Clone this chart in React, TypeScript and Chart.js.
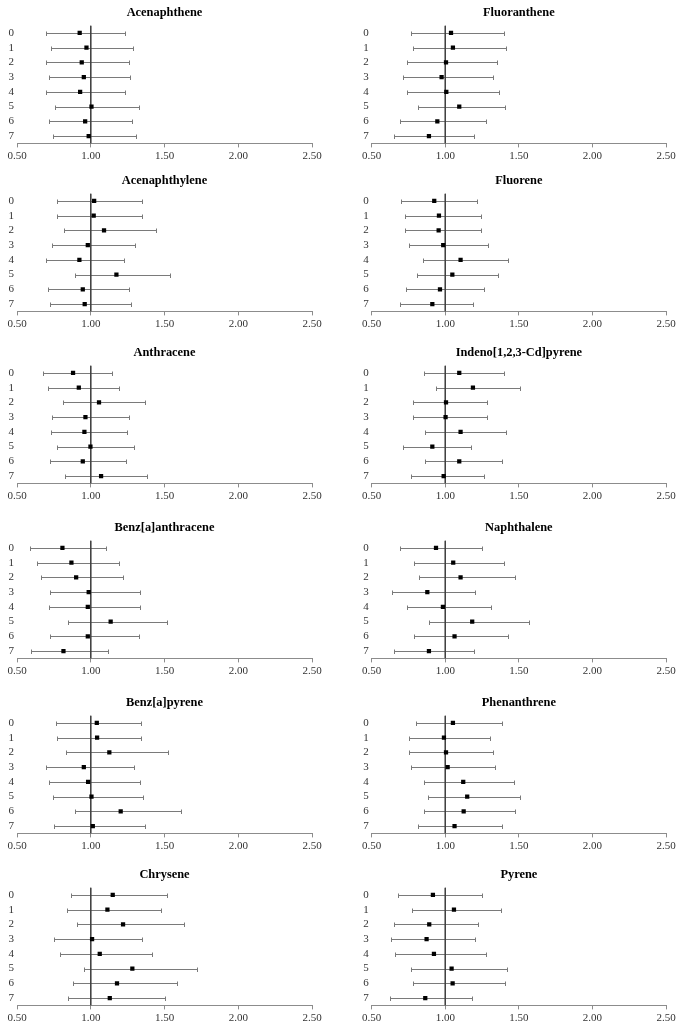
import React, { useEffect, useRef } from "react";
import { Chart, registerables } from "chart.js";

Chart.register(...registerables);

// ---------- data ----------
const compounds = [
  "Acenaphthene",
  "Fluoranthene",
  "Acenaphthylene",
  "Fluorene",
  "Anthracene",
  "Indeno[1,2,3-Cd]pyrene",
  "Benz[a]anthracene",
  "Naphthalene",
  "Benz[a]pyrene",
  "Phenanthrene",
  "Chrysene",
  "Pyrene",
];

const categories = ["0", "1", "2", "3", "4", "5", "6", "7"];
const xTickValues = [0.5, 1.0, 1.5, 2.0, 2.5];
const referenceValue = 1.0;

const estimates = [
  [0.925, 0.971, 0.939, 0.953, 0.928, 1.005, 0.962, 0.986],
  [1.039, 1.052, 1.005, 0.975, 1.007, 1.095, 0.946, 0.889],
  [1.023, 1.020, 1.090, 0.980, 0.923, 1.174, 0.946, 0.959],
  [0.925, 0.957, 0.955, 0.986, 1.104, 1.048, 0.964, 0.912],
  [0.880, 0.919, 1.056, 0.964, 0.957, 0.998, 0.946, 1.070],
  [1.095, 1.188, 1.005, 1.002, 1.104, 0.912, 1.095, 0.989],
  [0.808, 0.869, 0.901, 0.986, 0.980, 1.135, 0.980, 0.815],
  [0.937, 1.054, 1.104, 0.878, 0.984, 1.183, 1.063, 0.889],
  [1.041, 1.043, 1.126, 0.953, 0.982, 1.005, 1.203, 1.014],
  [1.052, 0.991, 1.005, 1.016, 1.122, 1.149, 1.125, 1.063],
  [1.149, 1.113, 1.219, 1.009, 1.061, 1.282, 1.178, 1.129],
  [0.916, 1.059, 0.891, 0.873, 0.923, 1.043, 1.050, 0.864],
];

const lowerCI = [
  [0.695, 0.729, 0.698, 0.718, 0.695, 0.758, 0.718, 0.745],
  [0.764, 0.783, 0.742, 0.715, 0.740, 0.814, 0.694, 0.653],
  [0.774, 0.772, 0.819, 0.740, 0.695, 0.896, 0.711, 0.725],
  [0.701, 0.728, 0.728, 0.753, 0.848, 0.805, 0.730, 0.692],
  [0.679, 0.707, 0.813, 0.738, 0.729, 0.770, 0.722, 0.826],
  [0.857, 0.934, 0.778, 0.778, 0.862, 0.710, 0.864, 0.769],
  [0.591, 0.634, 0.661, 0.722, 0.718, 0.847, 0.722, 0.594],
  [0.694, 0.789, 0.823, 0.638, 0.737, 0.887, 0.789, 0.653],
  [0.763, 0.772, 0.835, 0.698, 0.718, 0.743, 0.896, 0.749],
  [0.803, 0.753, 0.755, 0.769, 0.857, 0.880, 0.857, 0.814],
  [0.865, 0.837, 0.910, 0.752, 0.790, 0.955, 0.878, 0.847],
  [0.681, 0.776, 0.649, 0.629, 0.660, 0.764, 0.778, 0.626],
];

const upperCI = [
  [1.233, 1.284, 1.262, 1.266, 1.235, 1.327, 1.280, 1.307],
  [1.399, 1.410, 1.353, 1.324, 1.362, 1.408, 1.274, 1.197],
  [1.350, 1.350, 1.445, 1.300, 1.223, 1.540, 1.262, 1.275],
  [1.213, 1.245, 1.245, 1.288, 1.428, 1.360, 1.263, 1.190],
  [1.142, 1.192, 1.368, 1.262, 1.248, 1.296, 1.237, 1.379],
  [1.399, 1.505, 1.285, 1.285, 1.410, 1.172, 1.387, 1.265],
  [1.106, 1.192, 1.221, 1.334, 1.334, 1.519, 1.325, 1.117],
  [1.251, 1.401, 1.476, 1.204, 1.310, 1.571, 1.428, 1.197],
  [1.343, 1.343, 1.521, 1.293, 1.336, 1.354, 1.612, 1.368],
  [1.383, 1.306, 1.324, 1.340, 1.464, 1.505, 1.473, 1.387],
  [1.517, 1.479, 1.634, 1.350, 1.415, 1.722, 1.582, 1.501],
  [1.247, 1.381, 1.220, 1.199, 1.279, 1.421, 1.403, 1.179],
];

// ---------- layout / style ----------
const FONT = "'Liberation Serif', 'Times New Roman', serif";
const ROW_TOPS = [0, 168, 340, 515, 690, 862];
const PANEL_H = 172;
const COLS = [
  { left: 0, width: 340, padLeft: 0, padRight: 28 },
  { left: 340, width: 343, padLeft: 14.7, padRight: 17 },
];

const errorBarPlugin = {
  id: "errorBars",
  beforeDatasetsDraw(chart: any, _args: any, opts: any) {
    const { ctx } = chart;
    const xs = chart.scales.x;
    const ys = chart.scales.y;
    const lo: number[] = opts.lo;
    const hi: number[] = opts.hi;
    ctx.save();
    ctx.strokeStyle = opts.color;
    ctx.lineWidth = 1;
    lo.forEach((l, k) => {
      const yy = Math.round(ys.getPixelForValue(k)) + 0.5;
      const x1 = Math.round(xs.getPixelForValue(l)) + 0.5;
      const x2 = Math.round(xs.getPixelForValue(hi[k])) + 0.5;
      ctx.beginPath();
      ctx.moveTo(x1, yy);
      ctx.lineTo(x2, yy);
      ctx.moveTo(x1, yy - 2);
      ctx.lineTo(x1, yy + 2.5);
      ctx.moveTo(x2, yy - 2);
      ctx.lineTo(x2, yy + 2.5);
      ctx.stroke();
    });
    ctx.restore();
  },
};

function Panel({ index }: { index: number }) {
  const ref = useRef<HTMLCanvasElement | null>(null);
  const col = COLS[index % 2];
  const top = ROW_TOPS[Math.floor(index / 2)];

  useEffect(() => {
    if (!ref.current) return;
    const chart = new Chart(ref.current, {
      type: "scatter",
      data: {
        datasets: [
          {
            data: estimates[index].map((v, k) => ({ x: v, y: k })),
            pointStyle: "rect",
            pointRadius: 3,
            pointHoverRadius: 3,
            backgroundColor: "#000000",
            borderColor: "#000000",
            borderWidth: 0,
            order: 0,
          },
          {
            data: [
              { x: referenceValue, y: -0.5 },
              { x: referenceValue, y: categories.length - 0.5 },
            ],
            showLine: true,
            borderColor: "#404040",
            borderWidth: 1,
            pointRadius: 0,
            order: 2,
          },
        ],
      },
      options: {
        animation: false,
        responsive: false,
        events: [],
        layout: {
          padding: { left: col.padLeft, right: col.padRight, top: 0, bottom: 0 },
        },
        plugins: {
          legend: { display: false },
          tooltip: { enabled: false },
          title: {
            display: true,
            text: compounds[index],
            fullSize: false,
            color: "#000000",
            font: { family: FONT, size: 12.4, weight: "bold" },
            padding: { top: 5.4, bottom: 5.3 },
          },
          errorBars: { lo: lowerCI[index], hi: upperCI[index], color: "#7a7a7a" },
        } as any,
        scales: {
          x: {
            type: "linear",
            min: xTickValues[0],
            max: xTickValues[xTickValues.length - 1],
            afterBuildTicks: (s: any) => {
              s.ticks = xTickValues.map((v) => ({ value: v }));
            },
            afterFit: (s: any) => {
              s.height = PANEL_H - 143.4;
            },
            ticks: {
              callback: (v: any) => Number(v).toFixed(2),
              color: "#333333",
              font: { family: FONT, size: 11 },
              padding: 2,
              maxRotation: 0,
              autoSkip: false,
            },
            grid: {
              drawOnChartArea: false,
              drawTicks: true,
              tickLength: 4,
              color: "#8c8c8c",
            },
            border: { display: true, color: "#8c8c8c" },
          },
          y: {
            type: "linear",
            reverse: true,
            min: -0.5,
            max: categories.length - 0.5,
            afterBuildTicks: (s: any) => {
              s.ticks = categories.map((_, k) => ({ value: k }));
            },
            afterFit: (s: any) => {
              s.width = 17;
            },
            ticks: {
              callback: (v: any) => categories[Math.round(Number(v))],
              color: "#333333",
              font: { family: FONT, size: 11 },
              padding: 3,
              autoSkip: false,
            },
            grid: { display: false, drawTicks: false },
            border: { display: false },
          },
        },
      },
      plugins: [errorBarPlugin as any],
    });
    return () => chart.destroy();
  }, [index]);

  return (
    <canvas
      ref={ref}
      width={col.width}
      height={PANEL_H}
      style={{
        position: "absolute",
        left: col.left,
        top,
        width: col.width,
        height: PANEL_H,
        display: "block",
      }}
    />
  );
}

export default function App() {
  return (
    <div
      style={{
        position: "absolute",
        left: 0,
        top: 0,
        width: 683,
        height: 1028,
        overflow: "hidden",
        background: "#ffffff",
      }}
    >
      {compounds.map((_, i) => (
        <Panel key={i} index={i} />
      ))}
    </div>
  );
}
